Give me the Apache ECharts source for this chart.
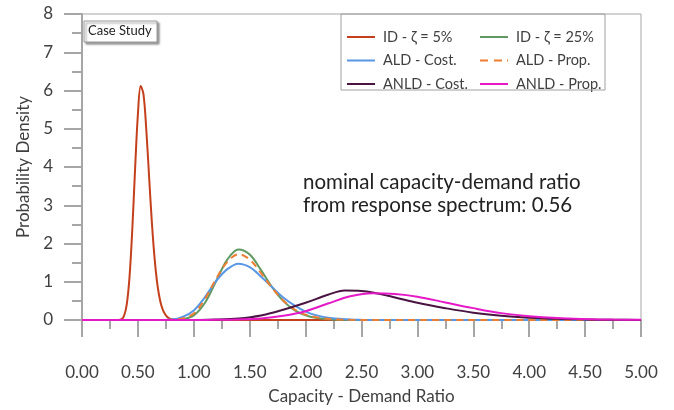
<!DOCTYPE html>
<html>
<head>
<meta charset="utf-8">
<script src="https://cdn.jsdelivr.net/npm/echarts@6/dist/echarts.min.js"></script>
<style>html,body{margin:0;padding:0;background:#fff}#c{width:674px;height:410px}</style>
</head>
<body>
<div id="c"></div>
<script>
// ---- Data ----
const seriesNames = ['ID - ζ = 5%', 'ALD - Cost.', 'ANLD - Cost.', 'ID - ζ = 25%', 'ALD - Prop.', 'ANLD - Prop.'];
const xTicks = [0, 0.5, 1, 1.5, 2, 2.5, 3, 3.5, 4, 4.5, 5];

const xId5 = [0, 0.2, 0.3, 0.35, 0.375, 0.4, 0.425, 0.45, 0.475, 0.5, 0.525, 0.55, 0.575, 0.6, 0.625, 0.65, 0.675, 0.7, 0.725, 0.75, 0.775, 0.8, 0.85, 0.9, 1.0, 5];
const yId5 = [0, 0, 0, 0.017, 0.10, 0.40, 1.12, 2.38, 3.96, 5.38, 6.12, 5.90, 4.98, 3.75, 2.55, 1.59, 0.91, 0.49, 0.25, 0.12, 0.05, 0.02, 0.004, 0, 0, 0];

const xId25 = [0, 0.6, 0.7, 0.8, 0.9, 1.0, 1.1, 1.2, 1.3, 1.4, 1.5, 1.6, 1.7, 1.8, 1.9, 2.0, 2.1, 2.2, 2.3, 2.4, 2.5, 2.6, 2.7, 5];
const yId25 = [0, 0, 0, 0.003, 0.02, 0.12, 0.45, 1.02, 1.58, 1.84, 1.71, 1.31, 0.86, 0.50, 0.26, 0.12, 0.05, 0.02, 0.008, 0.003, 0.001, 0, 0, 0];

const xAldCost = [0, 0.5, 0.6, 0.7, 0.8, 0.9, 1.0, 1.1, 1.2, 1.3, 1.4, 1.5, 1.6, 1.7, 1.8, 1.9, 2.0, 2.1, 2.2, 2.3, 2.4, 2.5, 2.6, 2.7, 2.8, 5];
const yAldCost = [0, 0, 0, 0.001, 0.01, 0.08, 0.25, 0.60, 1.02, 1.33, 1.47, 1.38, 1.14, 0.86, 0.59, 0.38, 0.22, 0.12, 0.06, 0.03, 0.012, 0.004, 0.001, 0, 0, 0];

const xAldProp = [0, 0.6, 0.7, 0.8, 0.9, 1.0, 1.1, 1.2, 1.3, 1.4, 1.5, 1.6, 1.7, 1.8, 1.9, 2.0, 2.1, 2.2, 2.3, 2.4, 2.5, 2.6, 2.7, 5];
const yAldProp = [0, 0, 0, 0.006, 0.04, 0.17, 0.55, 1.08, 1.52, 1.72, 1.58, 1.23, 0.84, 0.51, 0.28, 0.14, 0.07, 0.03, 0.013, 0.005, 0.001, 0, 0, 0];

const xAnldCost = [0, 0.8, 1.0, 1.2, 1.4, 1.6, 1.8, 2.0, 2.2, 2.35, 2.5, 2.6, 2.8, 3.0, 3.25, 3.5, 3.75, 4.0, 4.25, 4.5, 4.75, 5.0];
const yAnldCost = [0, 0, 0.002, 0.01, 0.04, 0.12, 0.27, 0.45, 0.66, 0.77, 0.76, 0.72, 0.59, 0.45, 0.31, 0.19, 0.11, 0.06, 0.03, 0.015, 0.006, 0.003];

const xAnldProp = [0, 1.0, 1.2, 1.4, 1.6, 1.8, 2.0, 2.2, 2.4, 2.6, 2.8, 3.0, 3.25, 3.5, 3.75, 4.0, 4.25, 4.5, 4.75, 5.0];
const yAnldProp = [0, 0, 0.005, 0.015, 0.04, 0.11, 0.23, 0.43, 0.62, 0.70, 0.68, 0.61, 0.46, 0.31, 0.18, 0.10, 0.05, 0.025, 0.01, 0.005];

const colors = {
  id5: '#c4401c', id25: '#609a62', aldCost: '#5897e6', aldProp: '#ed7d31', anldCost: '#4a1442', anldProp: '#e619c8'
};

function pairs(xs, ys) { return xs.map((x, i) => [x, ys[i]]); }

const FONT = 'Lato, "Open Sans", sans-serif';
const axisGray = '#a6a6a6';
const textCol = '#404040';
const solidIcon = 'path://M0,0 L28,0 L28,2 L0,2 Z';
const dashIcon = 'path://M0,0 L8,0 L8,2 L0,2 Z M14,0 L22,0 L22,2 L14,2 Z M27,0 L28,0 L28,2 L27,2 Z';

function mk(name, xs, ys, color, dashed) {
  return {
    name: name, type: 'line', data: pairs(xs, ys), symbol: 'none',
    smooth: 0.35,
    lineStyle: { color: color, width: 2, type: dashed ? [7, 5] : 'solid' },
    itemStyle: { color: color }
  };
}

const legendText = { fontFamily: FONT, fontSize: 14.5, color: textCol, lineHeight: 18, padding: [0, 0, 0, 3] };

const chart = echarts.init(document.getElementById('c'), null, { renderer: 'canvas' });
chart.setOption({
  animation: false,
  backgroundColor: '#fff',
  grid: { left: 82, right: 33, top: 14, bottom: 80, show: true, borderColor: axisGray, borderWidth: 1 },
  xAxis: {
    type: 'value', min: xTicks[0], max: xTicks[xTicks.length - 1], interval: 0.5,
    name: 'Capacity - Demand Ratio', nameLocation: 'middle', nameGap: 68,
    nameTextStyle: { fontFamily: FONT, fontSize: 17, color: textCol },
    axisLine: { lineStyle: { color: axisGray, width: 2 } },
    axisTick: { show: true, inside: false, length: 17, lineStyle: { color: axisGray, width: 2 } },
    minorTick: { show: true, splitNumber: 2, length: 9, lineStyle: { color: axisGray, width: 2 } },
    axisLabel: { margin: 44, fontFamily: FONT, fontSize: 17, color: textCol, formatter: v => v.toFixed(2) },
    splitLine: { show: false }
  },
  yAxis: {
    type: 'value', min: 0, max: 8, interval: 1,
    name: 'Probability Density', nameLocation: 'middle', nameGap: 50,
    nameTextStyle: { fontFamily: FONT, fontSize: 17, color: textCol },
    axisLine: { show: true, lineStyle: { color: axisGray, width: 2 } },
    axisTick: { show: true, inside: false, length: 18, lineStyle: { color: axisGray, width: 2 } },
    minorTick: { show: true, splitNumber: 2, length: 10, lineStyle: { color: axisGray, width: 2 } },
    axisLabel: { margin: 29, fontFamily: FONT, fontSize: 17, color: textCol },
    splitLine: { show: false }
  },
  legend: [
    { orient: 'vertical', left: 342, top: 23, itemWidth: 28, itemHeight: 2, itemGap: 5.5,
      data: [{ name: seriesNames[0], icon: solidIcon }, { name: seriesNames[1], icon: solidIcon }, { name: seriesNames[2], icon: solidIcon }],
      textStyle: legendText },
    { orient: 'vertical', left: 475, top: 23, itemWidth: 28, itemHeight: 2, itemGap: 5.5,
      data: [{ name: seriesNames[3], icon: solidIcon }, { name: seriesNames[4], icon: dashIcon }, { name: seriesNames[5], icon: solidIcon }],
      textStyle: legendText }
  ],
  graphic: [
    { type: 'rect', shape: { x: 341, y: 14, width: 264, height: 76 }, z: 50,
      style: { fill: 'rgba(0,0,0,0)', stroke: '#a0a0a0', lineWidth: 1 }, silent: true },
    { type: 'rect', shape: { x: 84, y: 21, width: 73, height: 21 }, z: 50,
      style: { fill: '#fff', stroke: '#9a9a9a', lineWidth: 1, shadowBlur: 2, shadowOffsetX: 2, shadowOffsetY: 2, shadowColor: 'rgba(0,0,0,0.4)' } },
    { type: 'text', left: 88, top: 24, z: 51,
      style: { text: 'Case Study', font: '13px ' + FONT, fill: '#222' } },
    { type: 'text', left: 303, top: 171, z: 51,
      style: { text: 'nominal capacity-demand ratio\nfrom response spectrum: 0.56', font: '20.5px ' + FONT, fill: '#222', lineHeight: 23 } }
  ],
  series: [
    mk(seriesNames[0], xId5, yId5, colors.id5, false),
    mk(seriesNames[3], xId25, yId25, colors.id25, false),
    mk(seriesNames[1], xAldCost, yAldCost, colors.aldCost, false),
    mk(seriesNames[4], xAldProp, yAldProp, colors.aldProp, true),
    mk(seriesNames[2], xAnldCost, yAnldCost, colors.anldCost, false),
    mk(seriesNames[5], xAnldProp, yAnldProp, colors.anldProp, false)
  ]
});
</script>
</body>
</html>
